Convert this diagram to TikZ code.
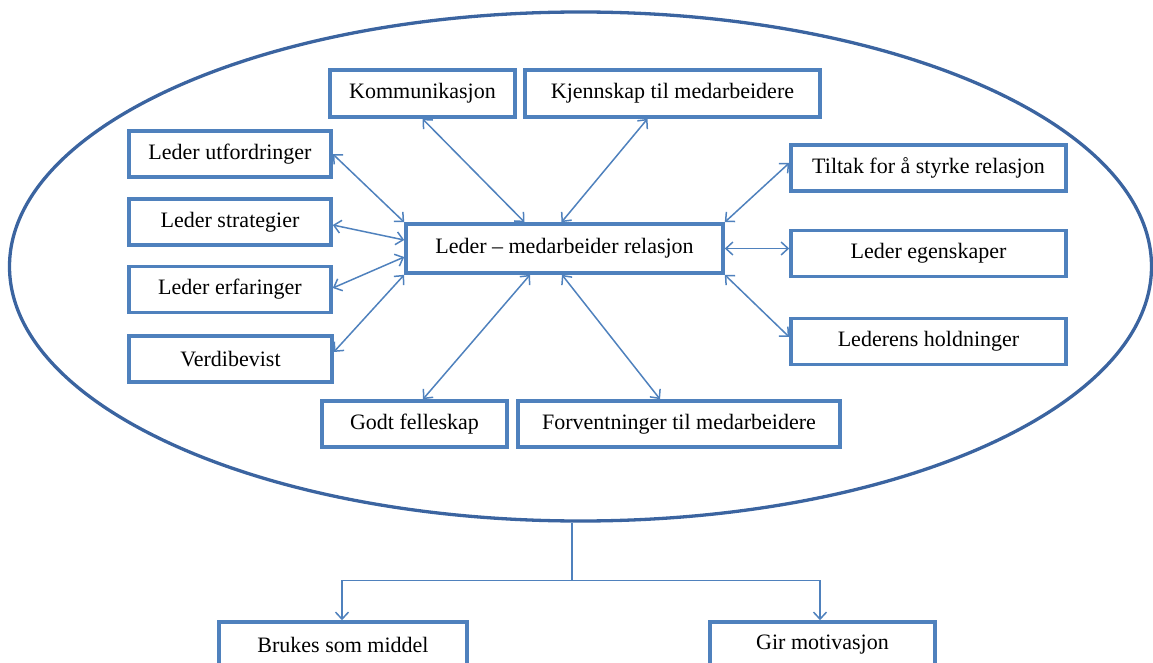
\documentclass[tikz,border=0pt]{standalone}
\usepackage{fontspec}
\setmainfont{Liberation Serif}
\usetikzlibrary{arrows.meta,shapes.geometric}
\definecolor{boxblue}{HTML}{4F81BD}
\definecolor{ellblue}{HTML}{3B64A0}
\begin{document}
\begin{tikzpicture}[x=1pt,y=-1pt,
  box/.style={draw=boxblue,line width=3.6pt,fill=white,rectangle,inner sep=0pt,
    minimum height=46pt,font=\fontsize{22}{26}\selectfont},
  link/.style={draw=boxblue,line width=1.5pt,{Straight Barb[length=7pt,width=13pt]}-{Straight Barb[length=7pt,width=13pt]}},
  down/.style={draw=boxblue,line width=1.5pt,-{Straight Barb[length=7pt,width=13pt]}}]
\useasboundingbox (0,0) rectangle (1153,663);
\node[ellipse,draw=ellblue,line width=3.3pt,minimum width=1142pt,minimum height=509pt,inner sep=0pt] (ell) at (580.5,266.5) {};
\node[box,minimum width=185pt,minimum height=47pt] (komm) at (422.5,93.5) {Kommunikasjon};
\node[box,minimum width=295pt,minimum height=47pt] (kjenn) at (672.5,93.5) {Kjennskap til medarbeidere};
\node[box,minimum width=202pt] (utf) at (230,154) {Leder utfordringer};
\node[box,minimum width=202pt] (strat) at (230,222) {Leder strategier};
\node[box,minimum width=202pt] (erf) at (230,289.5) {Leder erfaringer};
\node[box,minimum width=203pt] (verdi) at (230.5,359) {Verdibevist};
\node[box,minimum width=317pt,minimum height=49pt] (rel) at (564.5,248.5) {Leder -- medarbeider relasjon};
\node[box,minimum width=275pt] (tilt) at (928.5,168) {Tiltak for å styrke relasjon};
\node[box,minimum width=275pt] (egen) at (928.5,253.5) {Leder egenskaper};
\node[box,minimum width=275pt] (hold) at (928.5,341.5) {Lederens holdninger};
\node[box,minimum width=185pt] (godt) at (414.5,424) {Godt felleskap};
\node[box,minimum width=322pt] (forv) at (679,424) {Forventninger til medarbeidere};
\node[box,minimum width=248pt] (bruk) at (343,645) {Brukes som middel};
\node[box,minimum width=225pt] (gir) at (822.5,645) {Gir motivasjon};

\draw[link] (komm.south) -- ([xshift=-40pt]rel.north);
\draw[link] ([xshift=-25pt]kjenn.south) -- ([xshift=-3pt]rel.north);
\draw[link] (utf.east) -- (rel.north west);
\draw[link] ([yshift=-3pt]strat.east) -- ([yshift=8.5pt]rel.west);
\draw[link] ([yshift=1.5pt]erf.east) -- ([yshift=-8.5pt]rel.west);
\draw[link] ([yshift=7pt]verdi.east) -- (rel.south west);
\draw[link] ([xshift=8.5pt]godt.north) -- ([xshift=-34.5pt]rel.south);
\draw[link] ([xshift=-19pt]forv.north) -- ([xshift=-2.5pt]rel.south);
\draw[link] (rel.north east) -- ([yshift=5pt]tilt.west);
\draw[link] (rel.east) -- (egen.west |- rel.east);
\draw[link] (rel.south east) -- ([yshift=4.5pt]hold.west);

\draw[boxblue,line width=1.5pt] ([xshift=-8.5pt]ell.south) -- ++(0,58) coordinate (j);
\draw[down] (j) -| ([xshift=-1pt]bruk.north);
\draw[down] (j) -| ([xshift=-2.5pt]gir.north);
\end{tikzpicture}
\end{document}
